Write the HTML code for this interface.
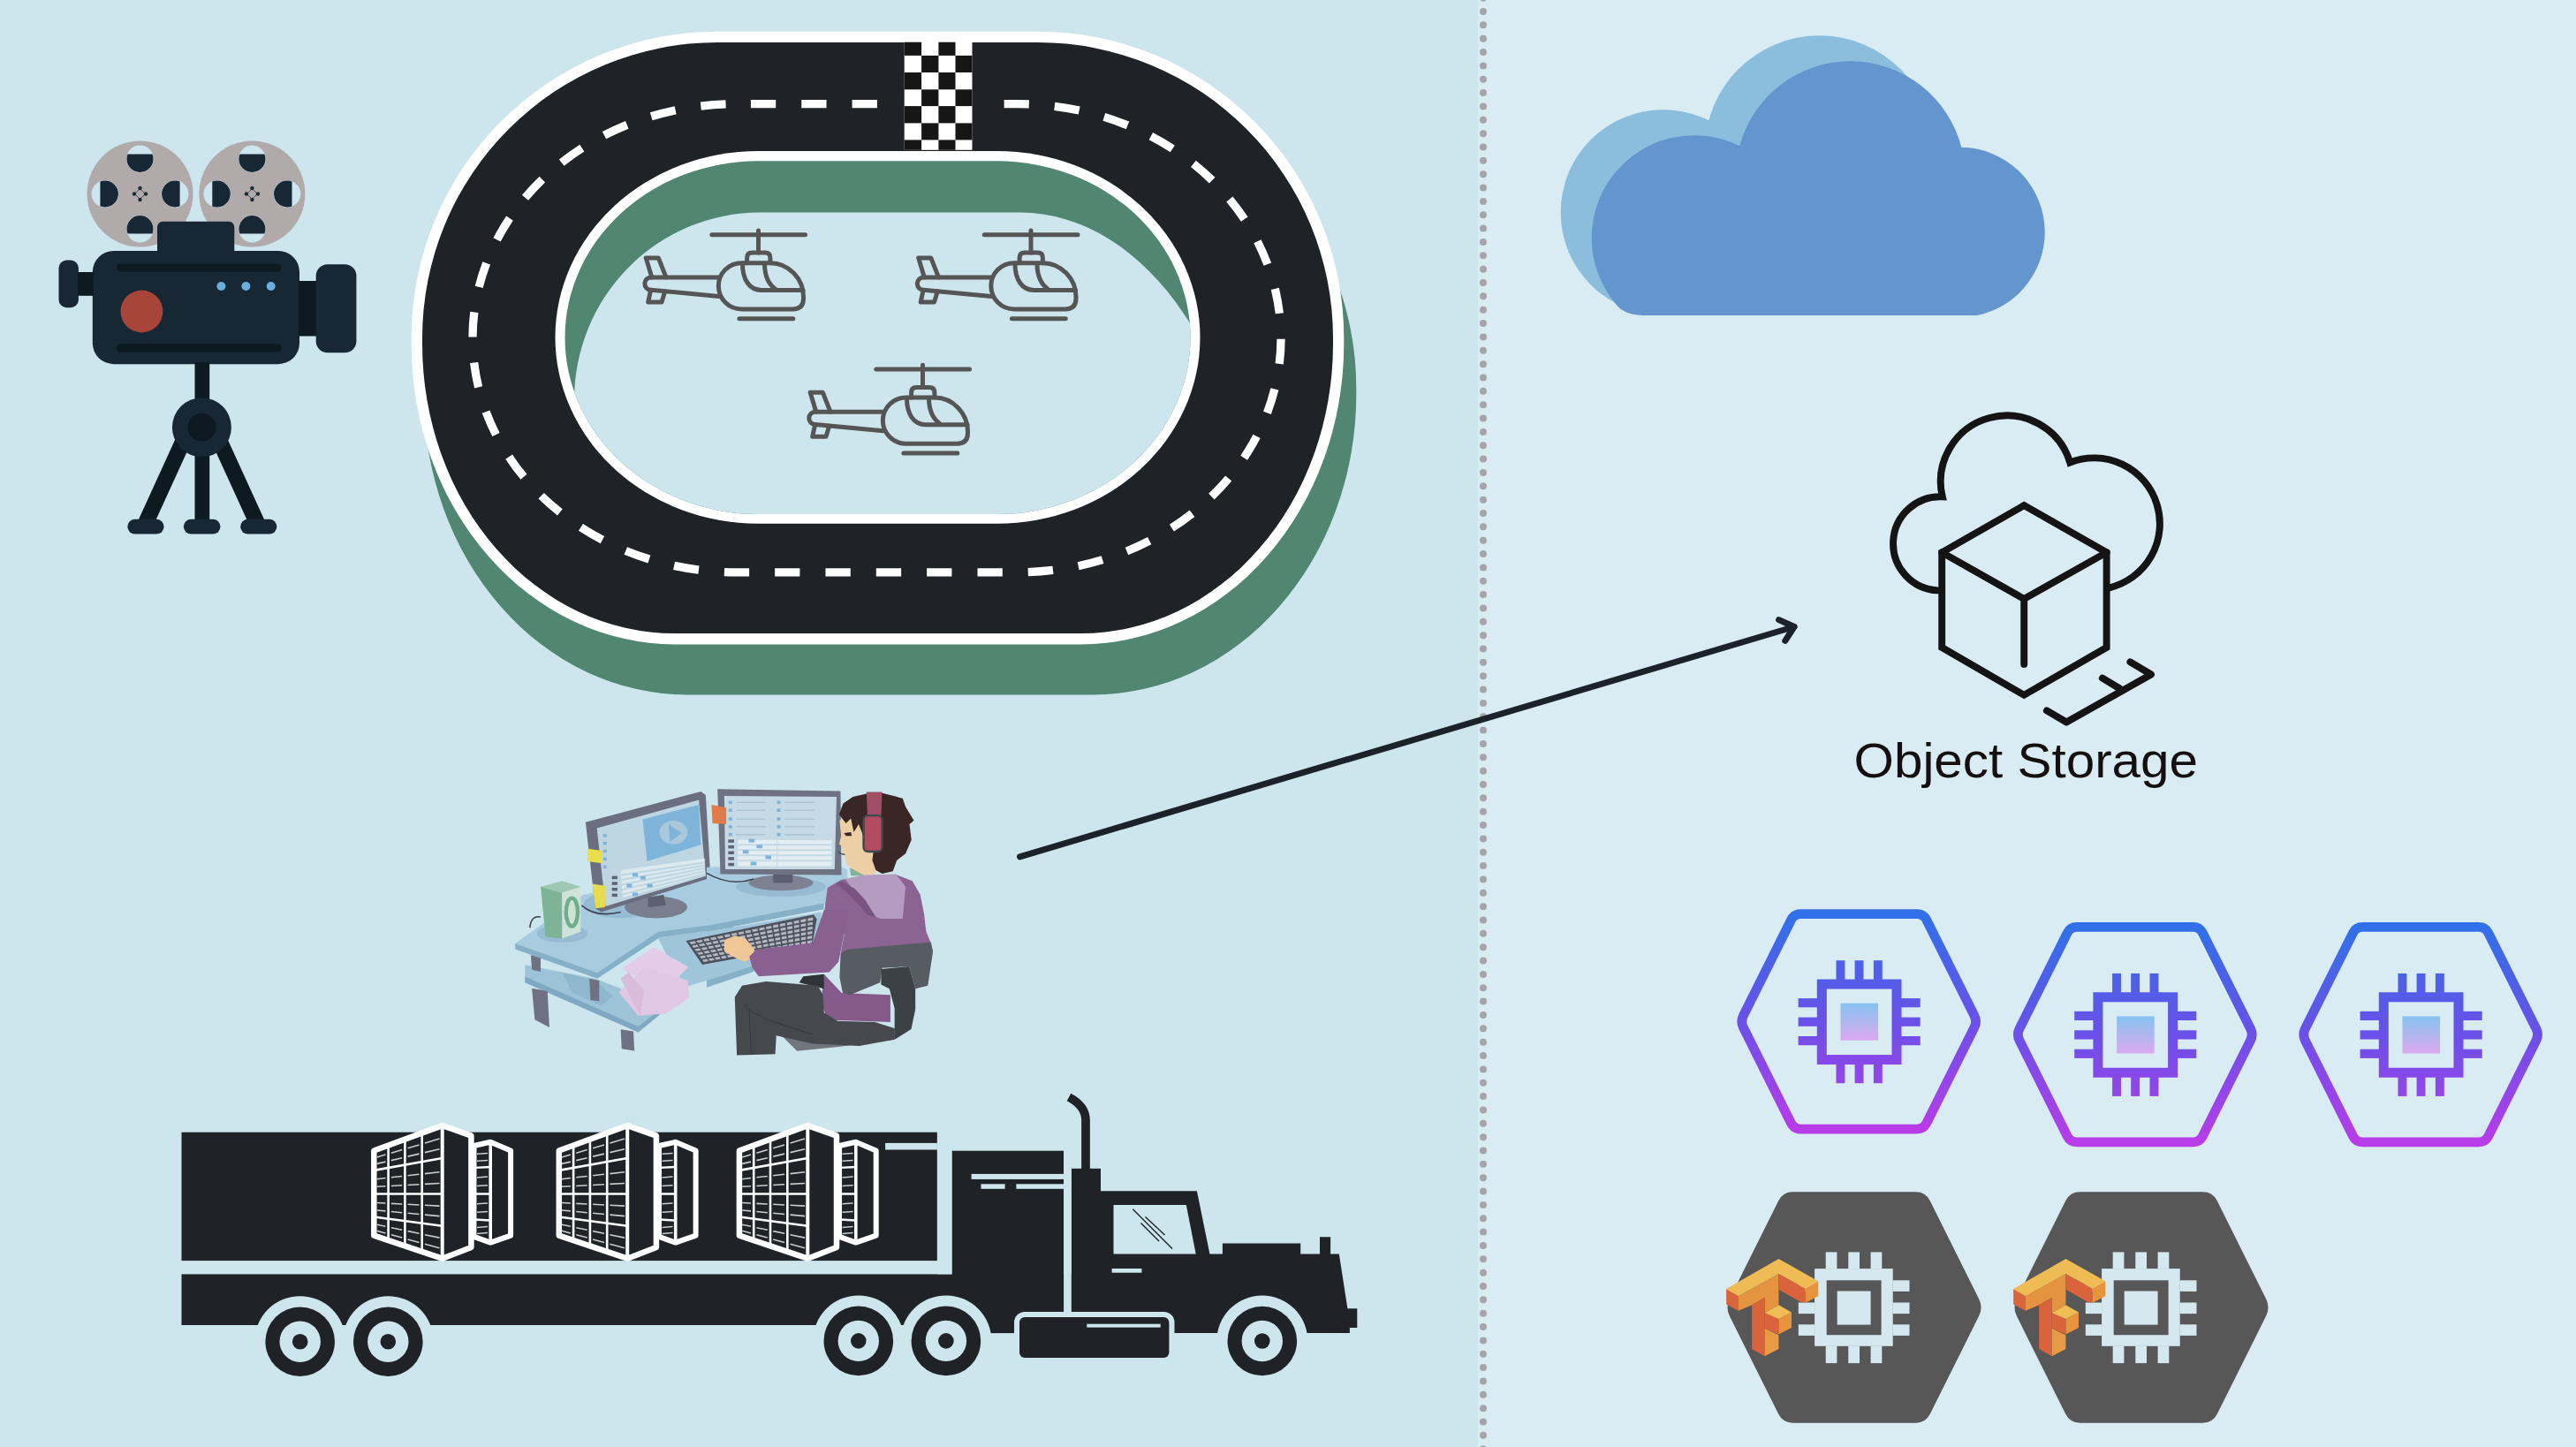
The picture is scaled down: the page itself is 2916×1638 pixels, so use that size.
<!DOCTYPE html>
<html><head><meta charset="utf-8"><title>Object Storage</title>
<style>
html,body{margin:0;padding:0;width:2916px;height:1638px;overflow:hidden;background:#d9ebf3;}
svg{position:absolute;left:0;top:0;display:block;}
.lbl{font-family:"Liberation Sans",sans-serif;}
</style></head><body>
<svg width="2916" height="1638" viewBox="0 0 2916 1638">
<defs>
<linearGradient id="hexg" x1="0" y1="0" x2="0" y2="1">
<stop offset="0" stop-color="#3170e8"/><stop offset="0.5" stop-color="#6a50e8"/><stop offset="1" stop-color="#b83ce8"/>
</linearGradient>
<linearGradient id="chipg" x1="0" y1="0" x2="0" y2="1">
<stop offset="0" stop-color="#86c3f0"/><stop offset="1" stop-color="#dba9ef"/>
</linearGradient>
</defs>
<rect x="0" y="0" width="1673" height="1638" fill="#cde6ed"/>
<rect x="1673" y="0" width="1243" height="1638" fill="#d9ebf3"/>

<g fill="#a3a6a9"><circle cx="1679" cy="-2.35" r="4"/><circle cx="1679" cy="13.00" r="4"/><circle cx="1679" cy="28.35" r="4"/><circle cx="1679" cy="43.70" r="4"/><circle cx="1679" cy="59.05" r="4"/><circle cx="1679" cy="74.41" r="4"/><circle cx="1679" cy="89.76" r="4"/><circle cx="1679" cy="105.11" r="4"/><circle cx="1679" cy="120.46" r="4"/><circle cx="1679" cy="135.81" r="4"/><circle cx="1679" cy="151.16" r="4"/><circle cx="1679" cy="166.51" r="4"/><circle cx="1679" cy="181.86" r="4"/><circle cx="1679" cy="197.21" r="4"/><circle cx="1679" cy="212.56" r="4"/><circle cx="1679" cy="227.92" r="4"/><circle cx="1679" cy="243.27" r="4"/><circle cx="1679" cy="258.62" r="4"/><circle cx="1679" cy="273.97" r="4"/><circle cx="1679" cy="289.32" r="4"/><circle cx="1679" cy="304.67" r="4"/><circle cx="1679" cy="320.02" r="4"/><circle cx="1679" cy="335.37" r="4"/><circle cx="1679" cy="350.72" r="4"/><circle cx="1679" cy="366.07" r="4"/><circle cx="1679" cy="381.43" r="4"/><circle cx="1679" cy="396.78" r="4"/><circle cx="1679" cy="412.13" r="4"/><circle cx="1679" cy="427.48" r="4"/><circle cx="1679" cy="442.83" r="4"/><circle cx="1679" cy="458.18" r="4"/><circle cx="1679" cy="473.53" r="4"/><circle cx="1679" cy="488.88" r="4"/><circle cx="1679" cy="504.23" r="4"/><circle cx="1679" cy="519.58" r="4"/><circle cx="1679" cy="534.94" r="4"/><circle cx="1679" cy="550.29" r="4"/><circle cx="1679" cy="565.64" r="4"/><circle cx="1679" cy="580.99" r="4"/><circle cx="1679" cy="596.34" r="4"/><circle cx="1679" cy="611.69" r="4"/><circle cx="1679" cy="627.04" r="4"/><circle cx="1679" cy="642.39" r="4"/><circle cx="1679" cy="657.74" r="4"/><circle cx="1679" cy="673.09" r="4"/><circle cx="1679" cy="688.45" r="4"/><circle cx="1679" cy="703.80" r="4"/><circle cx="1679" cy="719.15" r="4"/><circle cx="1679" cy="734.50" r="4"/><circle cx="1679" cy="749.85" r="4"/><circle cx="1679" cy="765.20" r="4"/><circle cx="1679" cy="780.55" r="4"/><circle cx="1679" cy="795.90" r="4"/><circle cx="1679" cy="811.25" r="4"/><circle cx="1679" cy="826.60" r="4"/><circle cx="1679" cy="841.96" r="4"/><circle cx="1679" cy="857.31" r="4"/><circle cx="1679" cy="872.66" r="4"/><circle cx="1679" cy="888.01" r="4"/><circle cx="1679" cy="903.36" r="4"/><circle cx="1679" cy="918.71" r="4"/><circle cx="1679" cy="934.06" r="4"/><circle cx="1679" cy="949.41" r="4"/><circle cx="1679" cy="964.76" r="4"/><circle cx="1679" cy="980.11" r="4"/><circle cx="1679" cy="995.47" r="4"/><circle cx="1679" cy="1010.82" r="4"/><circle cx="1679" cy="1026.17" r="4"/><circle cx="1679" cy="1041.52" r="4"/><circle cx="1679" cy="1056.87" r="4"/><circle cx="1679" cy="1072.22" r="4"/><circle cx="1679" cy="1087.57" r="4"/><circle cx="1679" cy="1102.92" r="4"/><circle cx="1679" cy="1118.27" r="4"/><circle cx="1679" cy="1133.62" r="4"/><circle cx="1679" cy="1148.98" r="4"/><circle cx="1679" cy="1164.33" r="4"/><circle cx="1679" cy="1179.68" r="4"/><circle cx="1679" cy="1195.03" r="4"/><circle cx="1679" cy="1210.38" r="4"/><circle cx="1679" cy="1225.73" r="4"/><circle cx="1679" cy="1241.08" r="4"/><circle cx="1679" cy="1256.43" r="4"/><circle cx="1679" cy="1271.78" r="4"/><circle cx="1679" cy="1287.13" r="4"/><circle cx="1679" cy="1302.49" r="4"/><circle cx="1679" cy="1317.84" r="4"/><circle cx="1679" cy="1333.19" r="4"/><circle cx="1679" cy="1348.54" r="4"/><circle cx="1679" cy="1363.89" r="4"/><circle cx="1679" cy="1379.24" r="4"/><circle cx="1679" cy="1394.59" r="4"/><circle cx="1679" cy="1409.94" r="4"/><circle cx="1679" cy="1425.29" r="4"/><circle cx="1679" cy="1440.64" r="4"/><circle cx="1679" cy="1456.00" r="4"/><circle cx="1679" cy="1471.35" r="4"/><circle cx="1679" cy="1486.70" r="4"/><circle cx="1679" cy="1502.05" r="4"/><circle cx="1679" cy="1517.40" r="4"/><circle cx="1679" cy="1532.75" r="4"/><circle cx="1679" cy="1548.10" r="4"/><circle cx="1679" cy="1563.45" r="4"/><circle cx="1679" cy="1578.80" r="4"/><circle cx="1679" cy="1594.15" r="4"/><circle cx="1679" cy="1609.51" r="4"/><circle cx="1679" cy="1624.86" r="4"/><circle cx="1679" cy="1640.21" r="4"/><circle cx="1679" cy="1655.56" r="4"/><circle cx="1679" cy="1670.91" r="4"/></g>
<g id="camera"><circle cx="158.5" cy="219.5" r="60" fill="#b0aaab"/><clipPath id="rc1580"><rect x="168.10" y="189.50" width="35.50" height="60" transform="rotate(0,198.10,219.50)"/></clipPath><circle cx="198.10" cy="219.50" r="15.3" fill="#cde6ed"/><circle cx="198.10" cy="219.50" r="15.0" fill="#172834" clip-path="url(#rc1580)"/><clipPath id="rc15890"><rect x="128.50" y="229.10" width="35.50" height="60" transform="rotate(90,158.50,259.10)"/></clipPath><circle cx="158.50" cy="259.10" r="15.3" fill="#cde6ed"/><circle cx="158.50" cy="259.10" r="15.0" fill="#172834" clip-path="url(#rc15890)"/><clipPath id="rc158180"><rect x="88.90" y="189.50" width="35.50" height="60" transform="rotate(180,118.90,219.50)"/></clipPath><circle cx="118.90" cy="219.50" r="15.3" fill="#cde6ed"/><circle cx="118.90" cy="219.50" r="15.0" fill="#172834" clip-path="url(#rc158180)"/><clipPath id="rc158270"><rect x="128.50" y="149.90" width="35.50" height="60" transform="rotate(270,158.50,179.90)"/></clipPath><circle cx="158.50" cy="179.90" r="15.3" fill="#cde6ed"/><circle cx="158.50" cy="179.90" r="15.0" fill="#172834" clip-path="url(#rc158270)"/><g stroke="#1b2a33" stroke-width="1" fill="none" opacity="0.7"><path d="M152.5,219.5 L158.5,213.5 L164.5,219.5 L158.5,225.5 Z"/></g><circle cx="152.0" cy="219.5" r="2.2" fill="#1b2a33"/><circle cx="165.0" cy="219.5" r="2.2" fill="#1b2a33"/><circle cx="158.5" cy="213.0" r="2.2" fill="#1b2a33"/><circle cx="158.5" cy="226.0" r="2.2" fill="#1b2a33"/><circle cx="285.4" cy="219.5" r="60" fill="#b0aaab"/><clipPath id="rc2850"><rect x="295.00" y="189.50" width="35.50" height="60" transform="rotate(0,325.00,219.50)"/></clipPath><circle cx="325.00" cy="219.50" r="15.3" fill="#cde6ed"/><circle cx="325.00" cy="219.50" r="15.0" fill="#172834" clip-path="url(#rc2850)"/><clipPath id="rc28590"><rect x="255.40" y="229.10" width="35.50" height="60" transform="rotate(90,285.40,259.10)"/></clipPath><circle cx="285.40" cy="259.10" r="15.3" fill="#cde6ed"/><circle cx="285.40" cy="259.10" r="15.0" fill="#172834" clip-path="url(#rc28590)"/><clipPath id="rc285180"><rect x="215.80" y="189.50" width="35.50" height="60" transform="rotate(180,245.80,219.50)"/></clipPath><circle cx="245.80" cy="219.50" r="15.3" fill="#cde6ed"/><circle cx="245.80" cy="219.50" r="15.0" fill="#172834" clip-path="url(#rc285180)"/><clipPath id="rc285270"><rect x="255.40" y="149.90" width="35.50" height="60" transform="rotate(270,285.40,179.90)"/></clipPath><circle cx="285.40" cy="179.90" r="15.3" fill="#cde6ed"/><circle cx="285.40" cy="179.90" r="15.0" fill="#172834" clip-path="url(#rc285270)"/><g stroke="#1b2a33" stroke-width="1" fill="none" opacity="0.7"><path d="M279.4,219.5 L285.4,213.5 L291.4,219.5 L285.4,225.5 Z"/></g><circle cx="278.9" cy="219.5" r="2.2" fill="#1b2a33"/><circle cx="291.9" cy="219.5" r="2.2" fill="#1b2a33"/><circle cx="285.4" cy="213.0" r="2.2" fill="#1b2a33"/><circle cx="285.4" cy="226.0" r="2.2" fill="#1b2a33"/><path d="M178,284.5 V258 Q178,250.8 185.5,250.8 H258 Q265.3,250.8 265.3,258 V284.5 Z" fill="#172834"/><rect x="104.8" y="284" width="234.2" height="128.2" rx="24" fill="#172834"/><rect x="131.9" y="298.4" width="186.6" height="9.3" rx="4.6" fill="#0e1a21"/><rect x="131.9" y="389.3" width="186.6" height="9.3" rx="4.6" fill="#0e1a21"/><circle cx="160.4" cy="352.5" r="23.9" fill="#a8443a"/><circle cx="250.4" cy="324" r="5" fill="#6aaee0"/><circle cx="278.4" cy="324" r="5" fill="#6aaee0"/><circle cx="306.7" cy="324" r="5" fill="#6aaee0"/><rect x="66.5" y="294.6" width="22.4" height="53.6" rx="9" fill="#172834"/><rect x="88" y="308" width="18" height="26.8" fill="#0e1a21"/><rect x="338" y="318" width="21" height="62.5" fill="#0e1a21"/><rect x="357.7" y="299.3" width="45.7" height="99.9" rx="13" fill="#172834"/><rect x="220.5" y="410" width="16.7" height="180" fill="#0e1a21"/><path d="M207,500 L165,592 M249,500 L291,592" stroke="#0e1a21" stroke-width="18" fill="none"/><circle cx="228.4" cy="483.7" r="33.5" fill="#172834"/><circle cx="228.4" cy="483.7" r="16" fill="#0e1a21"/><rect x="144.4" y="587.8" width="41.1" height="16.8" rx="8.4" fill="#172834"/><rect x="207.9" y="587.8" width="41.5" height="16.8" rx="8.4" fill="#172834"/><rect x="272.2" y="587.8" width="41.1" height="16.8" rx="8.4" fill="#172834"/></g>
<g id="track"><path d="M812.5,35.7 H1174.5 A346.8,346.8 0 0 1 1521.3,382.5 V389.4 A298,340 0 0 1 1223.3,729.4 H763.7 A298,340 0 0 1 465.7,389.4 V382.5 A346.8,346.8 0 0 1 812.5,35.7 Z" fill="#518672" transform="translate(14,57)"/><path d="M812.5,35.7 H1174.5 A346.8,346.8 0 0 1 1521.3,382.5 V389.4 A298,340 0 0 1 1223.3,729.4 H763.7 A298,340 0 0 1 465.7,389.4 V382.5 A346.8,346.8 0 0 1 812.5,35.7 Z" fill="#ffffff"/><path d="M812.5,48 H1174.5 A334.5,334.5 0 0 1 1509,382.5 V389.4 A285.7,327.7 0 0 1 1223.3,717.1 H763.7 A285.7,327.7 0 0 1 478,389.4 V382.5 A334.5,334.5 0 0 1 812.5,48 Z" fill="#1f2327"/><rect x="628.5" y="171" width="730" height="421.8" rx="230" ry="210.9" fill="#ffffff"/><clipPath id="innerclip"><rect x="639.5" y="182.3" width="708" height="399.7" rx="219" ry="199.8"/></clipPath><rect x="639.5" y="182.3" width="708" height="399.7" rx="219" ry="199.8" fill="#518672"/><path d="M650,700 L650,452.6 A210,212 0 0 1 860,240.6 L1155,240.6 A262,392 0 0 1 1417,632.6 L1417,700 Z" fill="#cde6ed" clip-path="url(#innerclip)"/><rect x="535" y="117.7" width="915" height="530.1" rx="298" ry="265" fill="none" stroke="#ffffff" stroke-width="9.3" stroke-dasharray="28.3 29.04" stroke-dashoffset="40.42"/><rect x="996" y="100" width="138" height="35" fill="#1f2327"/><rect x="1023.7" y="47.7" width="76.8" height="122.1" fill="#ffffff"/><rect x="1023.7" y="47.7" width="19.4" height="15.2" fill="#161616"/><rect x="1062.4" y="47.7" width="19.1" height="15.2" fill="#161616"/><rect x="1043.1" y="62.9" width="19.3" height="19.1" fill="#161616"/><rect x="1081.5" y="62.9" width="19.0" height="19.1" fill="#161616"/><rect x="1023.7" y="82.0" width="19.4" height="19.3" fill="#161616"/><rect x="1062.4" y="82.0" width="19.1" height="19.3" fill="#161616"/><rect x="1043.1" y="101.3" width="19.3" height="18.8" fill="#161616"/><rect x="1081.5" y="101.3" width="19.0" height="18.8" fill="#161616"/><rect x="1023.7" y="120.1" width="19.4" height="19.3" fill="#161616"/><rect x="1062.4" y="120.1" width="19.1" height="19.3" fill="#161616"/><rect x="1043.1" y="139.4" width="19.3" height="19.0" fill="#161616"/><rect x="1081.5" y="139.4" width="19.0" height="19.0" fill="#161616"/><rect x="1023.7" y="158.4" width="19.4" height="11.4" fill="#161616"/><rect x="1062.4" y="158.4" width="19.1" height="11.4" fill="#161616"/></g>
<g id="heli1"><g fill="none" stroke="#555555" stroke-width="5" stroke-linecap="round" stroke-linejoin="round"><path d="M805.8,265.8 H911.5"/><path d="M858.5,261 V286"/><path d="M845.6,297.7 V292 Q845.6,286.1 851.5,286.1 H866 Q871.9,286.1 871.9,292 V297.7"/><path d="M839.4,297.7 H872 C893,297.7 909.5,316 909.5,336 V338 Q909.5,349.9 897.5,349.9 H839.4 A26.1,26.1 0 0 1 839.4,297.7 Z"/><path d="M840.5,298.5 C840.5,316 848,328.4 862,328.4 H909"/><path d="M865.5,298.5 C865.5,312 869,321 878,327.5"/><path d="M813.7,313.9 H737 A7.2,7.2 0 0 0 737,328.3 L813.7,335.4"/><path d="M737.8,313.9 L731.2,291.9 H745.3 L754,313.9"/><path d="M736.5,329 L733.7,342 H749 L752.7,330"/><path d="M836.9,360.7 H897.8"/></g></g>
<g transform="translate(308.5,0)"><g fill="none" stroke="#555555" stroke-width="5" stroke-linecap="round" stroke-linejoin="round"><path d="M805.8,265.8 H911.5"/><path d="M858.5,261 V286"/><path d="M845.6,297.7 V292 Q845.6,286.1 851.5,286.1 H866 Q871.9,286.1 871.9,292 V297.7"/><path d="M839.4,297.7 H872 C893,297.7 909.5,316 909.5,336 V338 Q909.5,349.9 897.5,349.9 H839.4 A26.1,26.1 0 0 1 839.4,297.7 Z"/><path d="M840.5,298.5 C840.5,316 848,328.4 862,328.4 H909"/><path d="M865.5,298.5 C865.5,312 869,321 878,327.5"/><path d="M813.7,313.9 H737 A7.2,7.2 0 0 0 737,328.3 L813.7,335.4"/><path d="M737.8,313.9 L731.2,291.9 H745.3 L754,313.9"/><path d="M736.5,329 L733.7,342 H749 L752.7,330"/><path d="M836.9,360.7 H897.8"/></g></g>
<g transform="translate(186,152.3)"><g fill="none" stroke="#555555" stroke-width="5" stroke-linecap="round" stroke-linejoin="round"><path d="M805.8,265.8 H911.5"/><path d="M858.5,261 V286"/><path d="M845.6,297.7 V292 Q845.6,286.1 851.5,286.1 H866 Q871.9,286.1 871.9,292 V297.7"/><path d="M839.4,297.7 H872 C893,297.7 909.5,316 909.5,336 V338 Q909.5,349.9 897.5,349.9 H839.4 A26.1,26.1 0 0 1 839.4,297.7 Z"/><path d="M840.5,298.5 C840.5,316 848,328.4 862,328.4 H909"/><path d="M865.5,298.5 C865.5,312 869,321 878,327.5"/><path d="M813.7,313.9 H737 A7.2,7.2 0 0 0 737,328.3 L813.7,335.4"/><path d="M737.8,313.9 L731.2,291.9 H745.3 L754,313.9"/><path d="M736.5,329 L733.7,342 H749 L752.7,330"/><path d="M836.9,360.7 H897.8"/></g></g>
<g fill="#8bbddd" transform="translate(-35,-29)"><circle cx="1917.8" cy="269.3" r="116.1"/><circle cx="2094.6" cy="199.1" r="129.8"/></g><path fill="#6396ce" d="M1867.8,357 H2238.4 A96.2,96.2 0 0 0 2220.3,166.7 A129.8,129.8 0 0 0 1969.3,165.2 A116.1,116.1 0 0 0 1828.9,343.9 C1837.9,355.9 1852,357 1867.8,357 Z"/>
<g fill="none" stroke="#141414" stroke-width="7.9" stroke-linecap="round" stroke-linejoin="miter"><path d="M2198.2,625.4 L2291.2,572.1 L2384.6,625.4 L2384.6,733 L2291.2,786.8 L2198.2,733 Z"/><path d="M2198.2,625.4 L2291.2,677.9 L2384.6,625.4 M2291.2,677.9 V751.9"/><path d="M2193.5,668.4 A53,53 0 1 1 2198.8,562.4 A74.81,74.81 0 0 1 2343.2,523.5 A74.5,74.5 0 1 1 2387.8,665.3"/><path d="M2316.9,804.4 L2339.2,817.5 L2435,763.5 L2411.4,749.3 M2379.9,767.7 L2399.6,779.5" stroke-linejoin="round"/></g>
<text x="2098.5" y="879.5" class="lbl" font-size="55" fill="#15100f" textLength="389.5" lengthAdjust="spacingAndGlyphs">Object Storage</text>
<g fill="none" stroke="#1c2229" stroke-width="7" stroke-linecap="round" stroke-linejoin="round"><path d="M1154.5,969.8 L2031,709.5"/><path d="M2013.6,701.6 L2031,709.5 L2020.8,725.4"/></g>
<linearGradient id="hexgc" gradientUnits="userSpaceOnUse" x1="0" y1="1030" x2="0" y2="1284"><stop offset="0" stop-color="#3170e8"/><stop offset="0.5" stop-color="#6a50e8"/><stop offset="1" stop-color="#b83ce8"/></linearGradient><g><path d="M2027.51,1041.34 A12.00,12.00 0 0 1 2038.25,1034.70 L2170.05,1034.70 A12.00,12.00 0 0 1 2180.79,1041.34 L2234.86,1149.70 A15.00,15.00 0 0 1 2234.86,1163.10 L2180.79,1271.46 A12.00,12.00 0 0 1 2170.05,1278.10 L2038.25,1278.10 A12.00,12.00 0 0 1 2027.51,1271.46 L1973.44,1163.10 A15.00,15.00 0 0 1 1973.44,1149.70 Z" fill="none" stroke="url(#hexg)" stroke-width="10.8"/></g><g transform="translate(0,0)"><rect x="2062.3" y="1114.05" width="84.7" height="85.5" fill="none" stroke="url(#hexgc)" stroke-width="11"/><rect x="2078.5" y="1087.2" width="9.9" height="22" fill="url(#hexgc)"/><rect x="2078.5" y="1204" width="9.9" height="22.2" fill="url(#hexgc)"/><rect x="2099.6" y="1087.2" width="9.9" height="22" fill="url(#hexgc)"/><rect x="2099.6" y="1204" width="9.9" height="22.2" fill="url(#hexgc)"/><rect x="2120.9" y="1087.2" width="9.9" height="22" fill="url(#hexgc)"/><rect x="2120.9" y="1204" width="9.9" height="22.2" fill="url(#hexgc)"/><rect x="2035.6" y="1130.1" width="22" height="10.2" fill="url(#hexgc)"/><rect x="2152" y="1130.1" width="21.7" height="10.2" fill="url(#hexgc)"/><rect x="2035.6" y="1151.6" width="22" height="10.2" fill="url(#hexgc)"/><rect x="2152" y="1151.6" width="21.7" height="10.2" fill="url(#hexgc)"/><rect x="2035.6" y="1173" width="22" height="10.2" fill="url(#hexgc)"/><rect x="2152" y="1173" width="21.7" height="10.2" fill="url(#hexgc)"/><rect x="2083.5" y="1135.7" width="42.6" height="42" fill="url(#chipg)"/></g><g><path d="M2340.11,1056.04 A12.00,12.00 0 0 1 2350.85,1049.40 L2482.65,1049.40 A12.00,12.00 0 0 1 2493.39,1056.04 L2547.46,1164.40 A15.00,15.00 0 0 1 2547.46,1177.80 L2493.39,1286.16 A12.00,12.00 0 0 1 2482.65,1292.80 L2350.85,1292.80 A12.00,12.00 0 0 1 2340.11,1286.16 L2286.04,1177.80 A15.00,15.00 0 0 1 2286.04,1164.40 Z" fill="none" stroke="url(#hexg)" stroke-width="10.8"/></g><g transform="translate(312.6,14.7)"><rect x="2062.3" y="1114.05" width="84.7" height="85.5" fill="none" stroke="url(#hexgc)" stroke-width="11"/><rect x="2078.5" y="1087.2" width="9.9" height="22" fill="url(#hexgc)"/><rect x="2078.5" y="1204" width="9.9" height="22.2" fill="url(#hexgc)"/><rect x="2099.6" y="1087.2" width="9.9" height="22" fill="url(#hexgc)"/><rect x="2099.6" y="1204" width="9.9" height="22.2" fill="url(#hexgc)"/><rect x="2120.9" y="1087.2" width="9.9" height="22" fill="url(#hexgc)"/><rect x="2120.9" y="1204" width="9.9" height="22.2" fill="url(#hexgc)"/><rect x="2035.6" y="1130.1" width="22" height="10.2" fill="url(#hexgc)"/><rect x="2152" y="1130.1" width="21.7" height="10.2" fill="url(#hexgc)"/><rect x="2035.6" y="1151.6" width="22" height="10.2" fill="url(#hexgc)"/><rect x="2152" y="1151.6" width="21.7" height="10.2" fill="url(#hexgc)"/><rect x="2035.6" y="1173" width="22" height="10.2" fill="url(#hexgc)"/><rect x="2152" y="1173" width="21.7" height="10.2" fill="url(#hexgc)"/><rect x="2083.5" y="1135.7" width="42.6" height="42" fill="url(#chipg)"/></g><g><path d="M2663.51,1056.04 A12.00,12.00 0 0 1 2674.25,1049.40 L2806.05,1049.40 A12.00,12.00 0 0 1 2816.79,1056.04 L2870.86,1164.40 A15.00,15.00 0 0 1 2870.86,1177.80 L2816.79,1286.16 A12.00,12.00 0 0 1 2806.05,1292.80 L2674.25,1292.80 A12.00,12.00 0 0 1 2663.51,1286.16 L2609.44,1177.80 A15.00,15.00 0 0 1 2609.44,1164.40 Z" fill="none" stroke="url(#hexg)" stroke-width="10.8"/></g><g transform="translate(636,14.7)"><rect x="2062.3" y="1114.05" width="84.7" height="85.5" fill="none" stroke="url(#hexgc)" stroke-width="11"/><rect x="2078.5" y="1087.2" width="9.9" height="22" fill="url(#hexgc)"/><rect x="2078.5" y="1204" width="9.9" height="22.2" fill="url(#hexgc)"/><rect x="2099.6" y="1087.2" width="9.9" height="22" fill="url(#hexgc)"/><rect x="2099.6" y="1204" width="9.9" height="22.2" fill="url(#hexgc)"/><rect x="2120.9" y="1087.2" width="9.9" height="22" fill="url(#hexgc)"/><rect x="2120.9" y="1204" width="9.9" height="22.2" fill="url(#hexgc)"/><rect x="2035.6" y="1130.1" width="22" height="10.2" fill="url(#hexgc)"/><rect x="2152" y="1130.1" width="21.7" height="10.2" fill="url(#hexgc)"/><rect x="2035.6" y="1151.6" width="22" height="10.2" fill="url(#hexgc)"/><rect x="2152" y="1151.6" width="21.7" height="10.2" fill="url(#hexgc)"/><rect x="2035.6" y="1173" width="22" height="10.2" fill="url(#hexgc)"/><rect x="2152" y="1173" width="21.7" height="10.2" fill="url(#hexgc)"/><rect x="2083.5" y="1135.7" width="42.6" height="42" fill="url(#chipg)"/></g>
<path d="M2013.27,1359.26 A18.00,18.00 0 0 1 2029.38,1349.30 L2168.62,1349.30 A18.00,18.00 0 0 1 2184.73,1359.26 L2240.10,1470.23 A22.00,22.00 0 0 1 2240.10,1489.87 L2184.73,1600.84 A18.00,18.00 0 0 1 2168.62,1610.80 L2029.38,1610.80 A18.00,18.00 0 0 1 2013.27,1600.84 L1957.90,1489.87 A22.00,22.00 0 0 1 1957.90,1470.23 Z" fill="#575757"/><g transform="translate(0,0)"><rect x="2054.1" y="1436.1" width="88.6" height="87.7" fill="#d6e8ef"/><rect x="2067.7" y="1449.3" width="61.9" height="61.9" fill="#575757"/><rect x="2079.7" y="1461.5" width="37.9" height="38.1" fill="#d6e8ef"/><rect x="2066.7" y="1417.4" width="12.7" height="19" fill="#d6e8ef"/><rect x="2066.7" y="1523.5" width="12.7" height="19.6" fill="#d6e8ef"/><rect x="2092.3" y="1417.4" width="12.7" height="19" fill="#d6e8ef"/><rect x="2092.3" y="1523.5" width="12.7" height="19.6" fill="#d6e8ef"/><rect x="2117.6" y="1417.4" width="12.7" height="19" fill="#d6e8ef"/><rect x="2117.6" y="1523.5" width="12.7" height="19.6" fill="#d6e8ef"/><rect x="2035.8" y="1449.3" width="18.5" height="12.6" fill="#d6e8ef"/><rect x="2142.5" y="1449.3" width="19" height="12.6" fill="#d6e8ef"/><rect x="2035.8" y="1474.5" width="18.5" height="12.6" fill="#d6e8ef"/><rect x="2142.5" y="1474.5" width="19" height="12.6" fill="#d6e8ef"/><rect x="2035.8" y="1499.3" width="18.5" height="12.6" fill="#d6e8ef"/><rect x="2142.5" y="1499.3" width="19" height="12.6" fill="#d6e8ef"/></g><g transform="translate(1950,1420) scale(0.08293)"><polygon points="50,470 215,570 215,770 50,680" fill="#d9653a"/><polygon points="215,570 765,265 765,690 575,800 575,590 400,690 215,770" fill="#e4943f"/><polygon points="400,690 575,590 575,1390 400,1290" fill="#d9633a"/><polygon points="575,1010 765,1100 765,1290 575,1390" fill="#e89a45"/><polygon points="765,265 1130,465 1130,650 1075,655 765,480" fill="#d9633a"/><polygon points="1130,465 1305,365 1305,570 1130,660" fill="#e8943f"/><polygon points="50,470 765,60 1305,365 1130,465 765,265 215,570" fill="#eebb55"/><polygon points="575,800 765,880 765,1090 575,1010" fill="#d9633a"/><polygon points="765,880 940,790 940,1000 765,1090" fill="#e8943f"/><polygon points="575,800 765,690 940,790 765,880" fill="#f0bd55"/></g>
<path d="M2338.27,1359.26 A18.00,18.00 0 0 1 2354.38,1349.30 L2493.62,1349.30 A18.00,18.00 0 0 1 2509.73,1359.26 L2565.10,1470.23 A22.00,22.00 0 0 1 2565.10,1489.87 L2509.73,1600.84 A18.00,18.00 0 0 1 2493.62,1610.80 L2354.38,1610.80 A18.00,18.00 0 0 1 2338.27,1600.84 L2282.90,1489.87 A22.00,22.00 0 0 1 2282.90,1470.23 Z" fill="#575757"/><g transform="translate(325,0)"><rect x="2054.1" y="1436.1" width="88.6" height="87.7" fill="#d6e8ef"/><rect x="2067.7" y="1449.3" width="61.9" height="61.9" fill="#575757"/><rect x="2079.7" y="1461.5" width="37.9" height="38.1" fill="#d6e8ef"/><rect x="2066.7" y="1417.4" width="12.7" height="19" fill="#d6e8ef"/><rect x="2066.7" y="1523.5" width="12.7" height="19.6" fill="#d6e8ef"/><rect x="2092.3" y="1417.4" width="12.7" height="19" fill="#d6e8ef"/><rect x="2092.3" y="1523.5" width="12.7" height="19.6" fill="#d6e8ef"/><rect x="2117.6" y="1417.4" width="12.7" height="19" fill="#d6e8ef"/><rect x="2117.6" y="1523.5" width="12.7" height="19.6" fill="#d6e8ef"/><rect x="2035.8" y="1449.3" width="18.5" height="12.6" fill="#d6e8ef"/><rect x="2142.5" y="1449.3" width="19" height="12.6" fill="#d6e8ef"/><rect x="2035.8" y="1474.5" width="18.5" height="12.6" fill="#d6e8ef"/><rect x="2142.5" y="1474.5" width="19" height="12.6" fill="#d6e8ef"/><rect x="2035.8" y="1499.3" width="18.5" height="12.6" fill="#d6e8ef"/><rect x="2142.5" y="1499.3" width="19" height="12.6" fill="#d6e8ef"/></g><g transform="translate(2275,1420) scale(0.08293)"><polygon points="50,470 215,570 215,770 50,680" fill="#d9653a"/><polygon points="215,570 765,265 765,690 575,800 575,590 400,690 215,770" fill="#e4943f"/><polygon points="400,690 575,590 575,1390 400,1290" fill="#d9633a"/><polygon points="575,1010 765,1100 765,1290 575,1390" fill="#e89a45"/><polygon points="765,265 1130,465 1130,650 1075,655 765,480" fill="#d9633a"/><polygon points="1130,465 1305,365 1305,570 1130,660" fill="#e8943f"/><polygon points="50,470 765,60 1305,365 1130,465 765,265 215,570" fill="#eebb55"/><polygon points="575,800 765,880 765,1090 575,1010" fill="#d9633a"/><polygon points="765,880 940,790 940,1000 765,1090" fill="#e8943f"/><polygon points="575,800 765,690 940,790 765,880" fill="#f0bd55"/></g>
<g id="truck"><rect x="205.5" y="1281.7" width="855.4" height="145.4" fill="#1f2327"/><rect x="1002.1" y="1293.9" width="58.8" height="7.6" fill="#cde6ed"/><rect x="205.5" y="1442.4" width="1010" height="57.6" fill="#1f2327"/><rect x="1077.5" y="1302.7" width="126.6" height="206.4" fill="#1f2327"/><rect x="1212.8" y="1322.8" width="33.2" height="30" fill="#1f2327"/><path d="M1229,1330 V1268 Q1229,1252 1210,1242" fill="none" stroke="#1f2327" stroke-width="9.7"/><polygon points="1212.8,1348.2 1354.9,1348.2 1369.4,1419.6 1383.9,1419.6 1383.9,1407.5 1472.2,1407.5 1472.2,1419.6 1494,1419.6 1494,1400.3 1506.1,1400.3 1506.1,1419.6 1515.8,1419.6 1525.4,1481.3 1536.3,1481.3 1536.3,1503.1 1527.9,1503.1 1527.9,1509.1 1080,1509.1 1080,1442 1212.8,1442" fill="#1f2327"/><polygon points="1260.5,1364 1342.8,1364 1353.7,1419.6 1260.5,1419.6" fill="#cde6ed"/><g stroke="#1f2327" stroke-width="1.4"><path d="M1282.3,1368.8 L1327,1413.6"/><path d="M1291.5,1384.5 L1312,1405"/><path d="M1296.5,1377.5 L1318.5,1398"/></g><rect x="1258.6" y="1436" width="33.8" height="4.7" fill="#cde6ed"/><g fill="#cde6ed"><rect x="1099.6" y="1328.9" width="104.5" height="6"/><rect x="1110.5" y="1340.3" width="27.1" height="5.5"/><rect x="1150.4" y="1340.3" width="53.7" height="5.5"/></g><rect x="1204.1" y="1300" width="8.7" height="186" fill="#cde6ed"/><rect x="1060.9" y="1280" width="16.6" height="162.4" fill="#cde6ed"/><rect x="1148" y="1485" width="181.5" height="60" rx="12" fill="#cde6ed"/><rect x="1154" y="1491" width="169.4" height="46" rx="6" fill="#1f2327"/><rect x="1230.3" y="1498.7" width="83.4" height="3.9" fill="#cde6ed"/><circle cx="339.7" cy="1518.7" r="51.5" fill="#cde6ed"/><circle cx="439.3" cy="1518.7" r="51.5" fill="#cde6ed"/><circle cx="971.8" cy="1517.9" r="51.5" fill="#cde6ed"/><circle cx="1070.9" cy="1517.9" r="51.5" fill="#cde6ed"/><circle cx="1428.8" cy="1518" r="51.5" fill="#cde6ed"/><circle cx="339.7" cy="1518.7" r="39.3" fill="#1f2327"/><circle cx="339.7" cy="1518.7" r="23.2" fill="#cde6ed"/><circle cx="339.7" cy="1518.7" r="8.8" fill="#1f2327"/><circle cx="439.3" cy="1518.7" r="39.3" fill="#1f2327"/><circle cx="439.3" cy="1518.7" r="23.2" fill="#cde6ed"/><circle cx="439.3" cy="1518.7" r="8.8" fill="#1f2327"/><circle cx="971.8" cy="1517.9" r="39.3" fill="#1f2327"/><circle cx="971.8" cy="1517.9" r="23.2" fill="#cde6ed"/><circle cx="971.8" cy="1517.9" r="8.8" fill="#1f2327"/><circle cx="1070.9" cy="1517.9" r="39.3" fill="#1f2327"/><circle cx="1070.9" cy="1517.9" r="23.2" fill="#cde6ed"/><circle cx="1070.9" cy="1517.9" r="8.8" fill="#1f2327"/><circle cx="1428.8" cy="1518" r="39.3" fill="#1f2327"/><circle cx="1428.8" cy="1518" r="23.2" fill="#cde6ed"/><circle cx="1428.8" cy="1518" r="8.8" fill="#1f2327"/><g transform="translate(0,0)"><polygon points="500.7,1274.1 423.3,1302.5 423.3,1398.7 500.7,1424.7 533.4,1412 533.4,1285.6" fill="#1f2327" stroke="#ffffff" stroke-width="6.5" stroke-linejoin="round"/><path d="M500.7,1274.1 V1424.7" stroke="#ffffff" stroke-width="4"/><g stroke="#ffffff" stroke-width="2.6"><path d="M439.6,1297 V1404 M458.4,1290 V1411 M477.7,1283 V1417"/><path d="M423.3,1324.9 L500.7,1311 M423.3,1351.5 L500.7,1351.5 M423.3,1377.5 L500.7,1387.8"/></g><path d="M426.5,1310.1 L436.4,1307.1 M426.5,1317.4 L436.4,1315.1 M426.5,1334.7 L436.4,1333.5 M426.5,1343.3 L436.4,1342.8 M426.5,1361.5 L436.4,1362.0 M426.5,1370.0 L436.4,1370.9 M426.5,1386.2 L436.4,1388.3 M426.5,1393.2 L436.4,1395.9 M442.8,1305.2 L455.2,1301.6 M442.8,1313.6 L455.2,1310.7 M442.8,1332.8 L455.2,1331.5 M442.8,1342.5 L455.2,1341.8 M442.8,1362.4 L455.2,1363.0 M442.8,1371.5 L455.2,1372.7 M442.8,1389.7 L455.2,1392.3 M442.8,1397.7 L455.2,1401.1 M461.6,1299.7 L474.5,1295.9 M461.6,1309.1 L474.5,1306.1 M461.6,1330.7 L474.5,1329.3 M461.6,1341.5 L474.5,1340.8 M461.6,1363.3 L474.5,1364.0 M461.6,1373.3 L474.5,1374.5 M461.6,1393.6 L474.5,1396.3 M461.6,1402.9 L474.5,1406.4 M480.9,1294.0 L497.5,1289.1 M480.9,1304.6 L497.5,1300.7 M480.9,1328.6 L497.5,1326.7 M480.9,1340.4 L497.5,1339.5 M480.9,1364.3 L497.5,1365.1 M480.9,1375.1 L497.5,1376.6 M480.9,1397.7 L497.5,1401.1 M480.9,1408.2 L497.5,1412.7 " stroke="#c9cccd" stroke-width="1.6"/><polygon points="555.2,1292.8 578.1,1302.5 578.1,1398.7 555.2,1406.6 536.4,1399.9 536.5,1297" fill="#1f2327" stroke="#ffffff" stroke-width="6" stroke-linejoin="round"/><path d="M555.2,1292.8 V1406.6" stroke="#ffffff" stroke-width="3.6"/><path d="M537,1321.9 L555.2,1321 M537,1351.5 L555.2,1351.5 M537,1380.5 L555.2,1381.5" stroke="#ffffff" stroke-width="2.4"/><path d="M540,1306.3 L552,1305.5 M540,1314.2 L552,1313.4 M540,1332.9 L552,1332.1 M540,1342.5 L552,1341.7 M540,1362.7 L552,1361.9 M540,1372.2 L552,1371.4 M540,1389.4 L552,1388.6 M540,1396.4 L552,1395.6 " stroke="#c9cccd" stroke-width="1.5"/></g><g transform="translate(209.5,0)"><polygon points="500.7,1274.1 423.3,1302.5 423.3,1398.7 500.7,1424.7 533.4,1412 533.4,1285.6" fill="#1f2327" stroke="#ffffff" stroke-width="6.5" stroke-linejoin="round"/><path d="M500.7,1274.1 V1424.7" stroke="#ffffff" stroke-width="4"/><g stroke="#ffffff" stroke-width="2.6"><path d="M439.6,1297 V1404 M458.4,1290 V1411 M477.7,1283 V1417"/><path d="M423.3,1324.9 L500.7,1311 M423.3,1351.5 L500.7,1351.5 M423.3,1377.5 L500.7,1387.8"/></g><path d="M426.5,1310.1 L436.4,1307.1 M426.5,1317.4 L436.4,1315.1 M426.5,1334.7 L436.4,1333.5 M426.5,1343.3 L436.4,1342.8 M426.5,1361.5 L436.4,1362.0 M426.5,1370.0 L436.4,1370.9 M426.5,1386.2 L436.4,1388.3 M426.5,1393.2 L436.4,1395.9 M442.8,1305.2 L455.2,1301.6 M442.8,1313.6 L455.2,1310.7 M442.8,1332.8 L455.2,1331.5 M442.8,1342.5 L455.2,1341.8 M442.8,1362.4 L455.2,1363.0 M442.8,1371.5 L455.2,1372.7 M442.8,1389.7 L455.2,1392.3 M442.8,1397.7 L455.2,1401.1 M461.6,1299.7 L474.5,1295.9 M461.6,1309.1 L474.5,1306.1 M461.6,1330.7 L474.5,1329.3 M461.6,1341.5 L474.5,1340.8 M461.6,1363.3 L474.5,1364.0 M461.6,1373.3 L474.5,1374.5 M461.6,1393.6 L474.5,1396.3 M461.6,1402.9 L474.5,1406.4 M480.9,1294.0 L497.5,1289.1 M480.9,1304.6 L497.5,1300.7 M480.9,1328.6 L497.5,1326.7 M480.9,1340.4 L497.5,1339.5 M480.9,1364.3 L497.5,1365.1 M480.9,1375.1 L497.5,1376.6 M480.9,1397.7 L497.5,1401.1 M480.9,1408.2 L497.5,1412.7 " stroke="#c9cccd" stroke-width="1.6"/><polygon points="555.2,1292.8 578.1,1302.5 578.1,1398.7 555.2,1406.6 536.4,1399.9 536.5,1297" fill="#1f2327" stroke="#ffffff" stroke-width="6" stroke-linejoin="round"/><path d="M555.2,1292.8 V1406.6" stroke="#ffffff" stroke-width="3.6"/><path d="M537,1321.9 L555.2,1321 M537,1351.5 L555.2,1351.5 M537,1380.5 L555.2,1381.5" stroke="#ffffff" stroke-width="2.4"/><path d="M540,1306.3 L552,1305.5 M540,1314.2 L552,1313.4 M540,1332.9 L552,1332.1 M540,1342.5 L552,1341.7 M540,1362.7 L552,1361.9 M540,1372.2 L552,1371.4 M540,1389.4 L552,1388.6 M540,1396.4 L552,1395.6 " stroke="#c9cccd" stroke-width="1.5"/></g><g transform="translate(413.6,0)"><polygon points="500.7,1274.1 423.3,1302.5 423.3,1398.7 500.7,1424.7 533.4,1412 533.4,1285.6" fill="#1f2327" stroke="#ffffff" stroke-width="6.5" stroke-linejoin="round"/><path d="M500.7,1274.1 V1424.7" stroke="#ffffff" stroke-width="4"/><g stroke="#ffffff" stroke-width="2.6"><path d="M439.6,1297 V1404 M458.4,1290 V1411 M477.7,1283 V1417"/><path d="M423.3,1324.9 L500.7,1311 M423.3,1351.5 L500.7,1351.5 M423.3,1377.5 L500.7,1387.8"/></g><path d="M426.5,1310.1 L436.4,1307.1 M426.5,1317.4 L436.4,1315.1 M426.5,1334.7 L436.4,1333.5 M426.5,1343.3 L436.4,1342.8 M426.5,1361.5 L436.4,1362.0 M426.5,1370.0 L436.4,1370.9 M426.5,1386.2 L436.4,1388.3 M426.5,1393.2 L436.4,1395.9 M442.8,1305.2 L455.2,1301.6 M442.8,1313.6 L455.2,1310.7 M442.8,1332.8 L455.2,1331.5 M442.8,1342.5 L455.2,1341.8 M442.8,1362.4 L455.2,1363.0 M442.8,1371.5 L455.2,1372.7 M442.8,1389.7 L455.2,1392.3 M442.8,1397.7 L455.2,1401.1 M461.6,1299.7 L474.5,1295.9 M461.6,1309.1 L474.5,1306.1 M461.6,1330.7 L474.5,1329.3 M461.6,1341.5 L474.5,1340.8 M461.6,1363.3 L474.5,1364.0 M461.6,1373.3 L474.5,1374.5 M461.6,1393.6 L474.5,1396.3 M461.6,1402.9 L474.5,1406.4 M480.9,1294.0 L497.5,1289.1 M480.9,1304.6 L497.5,1300.7 M480.9,1328.6 L497.5,1326.7 M480.9,1340.4 L497.5,1339.5 M480.9,1364.3 L497.5,1365.1 M480.9,1375.1 L497.5,1376.6 M480.9,1397.7 L497.5,1401.1 M480.9,1408.2 L497.5,1412.7 " stroke="#c9cccd" stroke-width="1.6"/><polygon points="555.2,1292.8 578.1,1302.5 578.1,1398.7 555.2,1406.6 536.4,1399.9 536.5,1297" fill="#1f2327" stroke="#ffffff" stroke-width="6" stroke-linejoin="round"/><path d="M555.2,1292.8 V1406.6" stroke="#ffffff" stroke-width="3.6"/><path d="M537,1321.9 L555.2,1321 M537,1351.5 L555.2,1351.5 M537,1380.5 L555.2,1381.5" stroke="#ffffff" stroke-width="2.4"/><path d="M540,1306.3 L552,1305.5 M540,1314.2 L552,1313.4 M540,1332.9 L552,1332.1 M540,1342.5 L552,1341.7 M540,1362.7 L552,1361.9 M540,1372.2 L552,1371.4 M540,1389.4 L552,1388.6 M540,1396.4 L552,1395.6 " stroke="#c9cccd" stroke-width="1.5"/></g></g>
<g id="person"><g transform="translate(570,880) scale(0.22109)"><polygon points="110,960 470,1030 800,1160 800,1215 690,1305 110,1050" fill="#9cc3d8" /><polygon points="300,1000 470,1040 560,1120 500,1170 350,1100" fill="#8fb8cf" /><polygon points="110,1020 690,1275 800,1190 800,1215 690,1305 110,1050" fill="#7fa9c2" /><polygon points="145,1080 225,1095 235,1280 160,1240" fill="#6d7181" /><polygon points="600,1290 665,1300 670,1400 605,1390" fill="#6d7181" /><polygon points="140,910 190,920 190,995 145,985" fill="#6d7181" /><polygon points="440,1030 490,1040 490,1145 445,1140" fill="#6d7181" /><polygon points="60,850 410,600 1100,470 1176,465 1176,745 790,790 480,1000" fill="#a7cbdf" /><polygon points="60,850 480,1000 790,790 1176,742 1176,770 800,820 480,1030 60,880" fill="#86afc8" /><polygon points="790,820 1176,770 1176,1000 940,1070 880,1000" fill="#9fc5da" /><polygon points="610,975 770,870 945,970 880,1040 640,1010" fill="#e3cde6" /><polygon points="590,1100 720,975 945,1040 950,1130 830,1210 690,1220" fill="#e0c8e4" /><polygon points="640,1000 720,1090 700,1220 600,1030" fill="#d9bcdc" /><ellipse cx="780" cy="665" rx="160" ry="55" fill="#7a7e8e"/><ellipse cx="600" cy="650" rx="190" ry="70" fill="#95bcd2"/><ellipse cx="780" cy="665" rx="160" ry="55" fill="#7a7e8e"/><polygon points="740,615 820,600 830,655 740,665" fill="#5b5f6f" /><polygon points="420,230 1010,72 1035,90 1060,515 500,690 470,670" fill="#6b6e7f" /><polygon points="478,260 1000,115 1035,505 522,660" fill="#bed6e1" /><polygon points="600,475 1030,415 1033,500 610,615" fill="#dce9ef" /><g stroke="#bed6e1" stroke-width="9"><path d="M605,500 L1032,435"/><path d="M605,525 L1032,450"/><path d="M605,550 L1032,465"/><path d="M605,575 L1032,480"/><path d="M605,600 L1032,495"/></g><g fill="#7fb4da"><rect x="660" y="490" width="28" height="18"/><rect x="700" y="505" width="28" height="18"/><rect x="630" y="545" width="28" height="18"/><rect x="735" y="545" width="28" height="18"/><rect x="660" y="590" width="28" height="18"/></g><g fill="#5d6475"><rect x="555" y="505" width="28" height="16"/><rect x="555" y="535" width="28" height="16"/><rect x="555" y="565" width="28" height="16"/><rect x="555" y="595" width="28" height="16"/></g><g fill="#7fb4da"><rect x="510" y="290" width="18" height="16"/><rect x="510" y="330" width="18" height="16"/><rect x="510" y="370" width="18" height="16"/><rect x="510" y="410" width="18" height="16"/><rect x="510" y="450" width="18" height="16"/></g><polygon points="712,215 1000,140 1010,345 735,430" fill="#7fb4da" /><ellipse cx="870" cy="282" rx="72" ry="60" fill="#a9c8dc"/><polygon points="845,240 912,285 852,330" fill="#7fb4da" /><polygon points="430,365 505,375 505,440 430,430" fill="#e8df4a" /><polygon points="455,545 520,555 520,665 470,670" fill="#e5dc4f" /><ellipse cx="300" cy="800" rx="130" ry="45" fill="#95bcd2"/><polygon points="190,560 300,590 300,825 215,815" fill="#7db497" /><polygon points="300,590 395,560 395,790 300,825" fill="#cfe2d8" /><polygon points="190,560 300,530 395,560 300,590" fill="#9cc9b0" /><ellipse cx="350" cy="690" rx="30" ry="72" fill="none" stroke="#6fae8c" stroke-width="20"/><path d="M190,715 Q140,705 135,770" fill="none" stroke="#3d4250" stroke-width="7"/><path d="M400,655 Q470,720 600,690" fill="none" stroke="#3d4250" stroke-width="7"/></g><g transform="translate(800,880) scale(0.22109)"><polygon points="0,460 640,440 720,470 720,640 600,650 0,770" fill="#a7cbdf" /><polygon points="0,760 600,645 600,675 0,790" fill="#86afc8" /><polygon points="0,790 590,690 560,880 240,965 0,1050" fill="#9fc5da" /><polygon points="0,1040 240,965 240,995 0,1075" fill="#86afc8" /><ellipse cx="380" cy="560" rx="230" ry="50" fill="#95bcd2"/><ellipse cx="380" cy="540" rx="165" ry="40" fill="#7d8191"/><polygon points="340,490 440,490 440,540 340,540" fill="#5a5e6e" /><polygon points="55,60 685,70 690,500 70,495" fill="#6f7282" /><polygon points="90,95 665,100 655,470 95,470" fill="#c5dae4" /><polygon points="160,320 640,322 640,455 160,455" fill="#e3edf2" /><g stroke="#c5dae4" stroke-width="9"><path d="M160,345 H640"/><path d="M160,372 H640"/><path d="M160,399 H640"/><path d="M160,426 H640"/><path d="M360,320 V455" stroke-width="5"/></g><g fill="#7fb4da"><rect x="215" y="315" width="30" height="18"/><rect x="255" y="345" width="30" height="18"/><rect x="185" y="372" width="30" height="18"/><rect x="300" y="400" width="30" height="18"/><rect x="225" y="432" width="30" height="18"/></g><g fill="#5d6475"><rect x="110" y="318" width="30" height="16"/><rect x="110" y="348" width="30" height="16"/><rect x="110" y="378" width="30" height="16"/><rect x="110" y="408" width="30" height="16"/><rect x="110" y="438" width="30" height="16"/></g><g fill="#7fb4da"><rect x="112" y="120" width="18" height="16"/><rect x="112" y="160" width="18" height="16"/><rect x="112" y="205" width="18" height="16"/><rect x="112" y="245" width="18" height="16"/><rect x="112" y="285" width="18" height="16"/><rect x="360" y="120" width="18" height="16"/><rect x="360" y="160" width="18" height="16"/><rect x="360" y="205" width="18" height="16"/><rect x="360" y="245" width="18" height="16"/><rect x="360" y="285" width="18" height="16"/></g><g stroke="#a9c3cf" stroke-width="6"><path d="M150,128 H300"/><path d="M150,168 H300"/><path d="M150,213 H300"/><path d="M150,253 H300"/><path d="M150,293 H300"/><path d="M400,128 H550"/><path d="M400,168 H550"/><path d="M400,213 H550"/><path d="M400,253 H550"/><path d="M400,293 H550"/></g><path d="M0,490 Q120,560 240,520" fill="none" stroke="#3d4250" stroke-width="7"/></g><g transform="translate(570,880) scale(0.22109)"><polygon points="1065,140 1140,155 1140,240 1070,235" fill="#e07a4a" /></g><g transform="translate(820,1030) scale(0.11748)"><polygon points="-371,298 860,45 890,90 847,337 -213,528" fill="#4d525c" /><g fill="#b3b6c3"><polygon points="-337,310 -286,300 -272,321 -322,331"/><polygon points="-270,297 -219,287 -206,308 -256,318"/><polygon points="-203,283 -152,273 -140,295 -190,305"/><polygon points="-136,270 -85,260 -73,282 -124,292"/><polygon points="-69,257 -18,246 -7,269 -58,278"/><polygon points="-2,243 49,233 59,255 9,265"/><polygon points="65,230 116,220 125,242 75,252"/><polygon points="132,216 183,206 191,229 141,239"/><polygon points="199,203 250,193 257,216 207,226"/><polygon points="266,190 317,180 323,203 273,213"/><polygon points="333,176 384,166 390,190 339,200"/><polygon points="400,163 451,153 456,177 405,187"/><polygon points="467,150 518,139 522,164 472,174"/><polygon points="534,136 585,126 588,151 538,161"/><polygon points="602,123 652,113 654,138 604,148"/><polygon points="669,109 719,99 720,125 670,135"/><polygon points="736,96 787,86 786,112 736,122"/><polygon points="803,83 854,72 852,99 802,109"/><polygon points="-312,344 -262,335 -248,355 -297,365"/><polygon points="-247,332 -197,322 -183,343 -233,352"/><polygon points="-181,319 -131,309 -119,330 -168,340"/><polygon points="-116,306 -66,296 -54,318 -103,327"/><polygon points="-50,293 -0,283 10,305 -39,315"/><polygon points="16,280 65,270 75,293 26,302"/><polygon points="81,267 131,258 140,280 91,290"/><polygon points="147,254 196,245 204,268 155,277"/><polygon points="212,242 262,232 269,255 220,265"/><polygon points="278,229 327,219 334,243 284,252"/><polygon points="343,216 393,206 398,230 349,240"/><polygon points="409,203 459,193 463,218 414,227"/><polygon points="474,190 524,180 527,205 478,215"/><polygon points="540,177 590,168 592,193 543,202"/><polygon points="605,164 655,155 657,180 608,190"/><polygon points="671,152 721,142 721,167 672,177"/><polygon points="736,139 786,129 786,155 737,164"/><polygon points="802,126 852,116 851,142 802,152"/><polygon points="-287,379 -239,369 -224,390 -272,399"/><polygon points="-223,366 -175,357 -161,378 -209,387"/><polygon points="-159,354 -111,345 -98,366 -146,375"/><polygon points="-95,342 -47,332 -35,354 -83,363"/><polygon points="-31,329 17,320 28,342 -20,351"/><polygon points="33,317 82,308 91,330 43,339"/><polygon points="97,305 146,295 154,318 106,327"/><polygon points="161,292 210,283 217,306 170,315"/><polygon points="225,280 274,271 281,294 233,303"/><polygon points="289,268 338,258 344,282 296,291"/><polygon points="353,256 402,246 407,270 359,279"/><polygon points="417,243 466,234 470,258 422,267"/><polygon points="481,231 530,222 533,246 485,255"/><polygon points="545,219 594,209 596,234 548,243"/><polygon points="609,206 658,197 659,222 611,231"/><polygon points="673,194 722,185 723,210 675,219"/><polygon points="737,182 786,172 786,198 738,207"/><polygon points="801,169 850,160 849,186 801,195"/><polygon points="-262,413 -215,404 -201,425 -248,433"/><polygon points="-200,401 -152,392 -139,413 -186,422"/><polygon points="-137,389 -90,380 -77,402 -124,411"/><polygon points="-75,378 -27,369 -16,390 -63,399"/><polygon points="-12,366 35,357 46,379 -1,388"/><polygon points="50,354 98,345 107,367 61,376"/><polygon points="113,342 160,333 169,356 122,365"/><polygon points="175,330 223,321 231,345 184,353"/><polygon points="238,319 285,310 292,333 245,342"/><polygon points="300,307 348,298 354,322 307,330"/><polygon points="363,295 410,286 416,310 369,319"/><polygon points="425,283 473,274 477,299 430,307"/><polygon points="488,272 535,263 539,287 492,296"/><polygon points="550,260 598,251 600,276 554,284"/><polygon points="613,248 660,239 662,264 615,273"/><polygon points="676,236 723,227 724,253 677,262"/><polygon points="738,224 786,215 785,241 739,250"/><polygon points="801,213 848,204 847,230 800,239"/><polygon points="-238,447 -191,439 -177,459 -223,468"/><polygon points="-177,436 -130,427 -117,448 -163,457"/><polygon points="-116,425 -69,416 -57,438 -103,446"/><polygon points="-55,413 -8,405 3,427 -42,435"/><polygon points="6,402 53,394 63,416 18,424"/><polygon points="67,391 114,382 124,405 78,413"/><polygon points="129,380 175,371 184,394 138,402"/><polygon points="190,368 236,360 244,383 198,391"/><polygon points="251,357 297,349 304,372 258,380"/><polygon points="312,346 358,337 364,361 318,369"/><polygon points="373,335 419,326 424,350 379,358"/><polygon points="434,323 480,315 484,339 439,348"/><polygon points="495,312 541,304 545,328 499,337"/><polygon points="556,301 602,292 605,317 559,326"/><polygon points="617,290 663,281 665,306 619,315"/><polygon points="678,278 724,270 725,296 679,304"/><polygon points="739,267 785,259 785,285 739,293"/><polygon points="800,256 846,247 845,274 799,282"/><polygon points="-213,481 -168,473 -153,494 -198,502"/><polygon points="-153,471 -108,463 -95,484 -139,492"/><polygon points="-94,460 -49,452 -36,473 -81,481"/><polygon points="-34,449 11,441 22,463 -22,471"/><polygon points="25,439 71,430 81,452 37,460"/><polygon points="85,428 130,420 140,442 95,450"/><polygon points="144,417 190,409 198,432 154,440"/><polygon points="204,406 249,398 257,421 212,429"/><polygon points="263,396 309,388 316,411 271,419"/><polygon points="323,385 368,377 374,401 330,408"/><polygon points="382,374 428,366 433,390 388,398"/><polygon points="442,364 487,355 492,380 447,388"/><polygon points="502,353 547,345 550,369 506,377"/><polygon points="561,342 606,334 609,359 564,367"/><polygon points="621,331 666,323 667,349 623,357"/><polygon points="680,321 725,313 726,338 682,346"/><polygon points="740,310 785,302 785,328 740,336"/><polygon points="799,299 844,291 843,317 799,325"/></g><polygon points="0,290 100,250 200,270 290,380 260,470 190,500 80,450 0,400" fill="#f0c796" /></g><g transform="translate(930,880) scale(0.11058)"><polygon points="0,1600 60,1130 200,1050 440,1010 760,995 930,1060 1010,1200 1050,1400 1075,1620" fill="#8c6494" /><polygon points="240,1040 420,1000 760,990 860,1120 830,1447 570,1447 440,1250 300,1120" fill="#b49cc0" /><polygon points="200,1060 340,1140 450,1260 560,1447 500,1447 370,1290 250,1170 150,1090" fill="#7a5584" /></g><g transform="translate(820,1030) scale(0.11748)"><polygon points="240,450 310,380 850,320 960,0 1200,0 1100,500 1010,600 330,640 270,560" fill="#8a6090" /><polygon points="960,620 1130,800 1600,820 1600,1080 1000,1060 930,900" fill="#855a8b" /><polygon points="1200,0 1940,200 1990,320 1120,420" fill="#8c6494" /><polygon points="540,1200 700,1360 1100,1320 1640,1250 1640,1150 980,1210" fill="#71767e" /><polygon points="720,700 760,640 960,620 960,760" fill="#2f3438" /><polygon points="1120,420 1180,380 1990,310 2010,400 1960,730 1840,760 1780,545 1520,560 1500,700 1210,820 1140,800 1110,650" fill="#575c63" /><polygon points="1510,570 1780,545 1840,760 1840,960 1800,1150 1640,1250 1640,950 1590,760 1510,720" fill="#3c4146" /><polygon points="100,840 170,730 400,690 900,730 950,820 960,990 1090,1070 1450,1080 1640,1140 1640,1250 1300,1310 850,1290 500,1210 490,1390 120,1400" fill="#45494e" /><path d="M240,970 L260,1390 M180,910 L230,960 L420,1060 L850,1200" fill="none" stroke="#34383c" stroke-width="8"/></g><g transform="translate(930,880) scale(0.11058)"><polygon points="290,925 430,925 430,1005 300,1005" fill="#80b29a" /><polygon points="185,440 260,390 420,330 520,700 540,880 560,990 430,1000 300,930 250,880 235,790 210,760 220,720 180,680 200,600" fill="#edcfa5" /><polygon points="180,380 220,270 320,200 470,165 620,160 740,190 830,215 860,300 945,440 900,480 920,640 860,780 770,850 730,960 620,985 555,950 520,850 530,760 470,700 420,580 380,480 330,560 300,420 250,470 210,420" fill="#3b2626" /><polygon points="230,570 300,560 310,600 250,600" fill="#3b2626" /><polygon points="460,150 620,150 600,650 480,660" fill="#a14e66" /><rect x="430" y="390" width="190" height="370" rx="45" fill="#b24a62" stroke="#3d4a4a" stroke-width="22"/><path d="M170,760 Q200,790 240,790" fill="none" stroke="#3d4a4a" stroke-width="10"/></g></g>
</svg></body></html>
